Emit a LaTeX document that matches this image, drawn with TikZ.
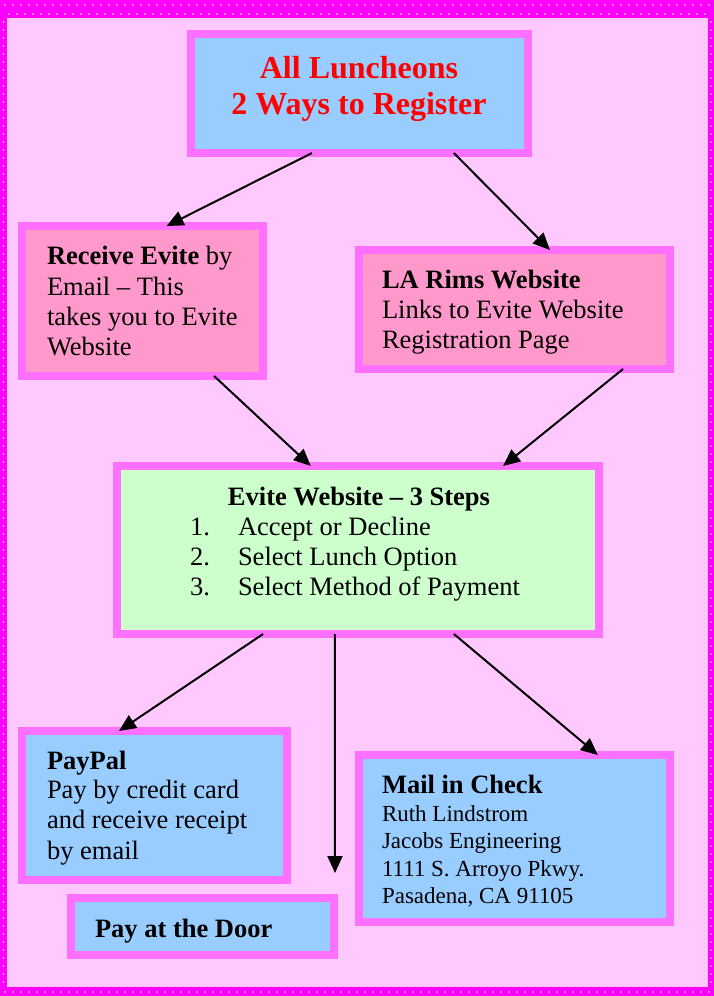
\documentclass[tikz,border=0pt]{standalone}
\usepackage{fontspec}
\setmainfont{Liberation Serif}
\usetikzlibrary{arrows.meta,calc}
\definecolor{pagemag}{HTML}{FF00FF}
\definecolor{pagebg}{HTML}{FFC8FF}
\definecolor{boxedge}{HTML}{FF70FF}
\definecolor{bluefill}{HTML}{99CCFF}
\definecolor{pinkfill}{HTML}{FF99CC}
\definecolor{greenfill}{HTML}{CCFFCC}
\tikzset{
  box/.style={draw=boxedge, line width=8pt, inner sep=0pt, outer sep=0pt},
  body/.style={font=\fontsize{26.5}{30}\selectfont, anchor=base west, inner sep=0pt, outer sep=0pt},
  small/.style={font=\fontsize{23}{27}\selectfont, anchor=base west, inner sep=0pt, outer sep=0pt},
  headline/.style={font=\fontsize{32}{36}\selectfont\bfseries, text=red, anchor=base, inner sep=0pt},
  flow/.style={line width=2pt, -{Triangle[length=17pt,width=15pt]}},
  dot/.style={fill=white}
}
\begin{document}
\begin{tikzpicture}[x=1pt,y=-1pt]
\useasboundingbox (0,0) rectangle (714,996);
% page frame
\fill[pagemag] (0,0) rectangle (714,996);
\fill[pagebg] (7,18) rectangle (708,987);
\foreach \x in {5,13,...,709} {\fill[dot] (\x,5) circle (0.9pt); \fill[dot] (\x,992) circle (0.9pt);}
\foreach \x in {9,17,...,705} {\fill[dot] (\x,14) circle (0.9pt);}
\foreach \y in {22,30,...,982} {\fill[dot] (3.5,\y) circle (0.9pt); \fill[dot] (711,\y) circle (0.9pt);}

% boxes
\node[box, fill=bluefill, minimum width=337pt, minimum height=119pt] (title) at (359.5,93.5) {};
\node[box, fill=pinkfill, minimum width=241pt, minimum height=150pt] (receive) at (142.5,301) {};
\node[box, fill=pinkfill, minimum width=311pt, minimum height=119pt] (larims) at (514.5,309.5) {};
\node[box, fill=greenfill, minimum width=482pt, minimum height=168pt] (evite) at (358,550) {};
\node[box, fill=bluefill, minimum width=265pt, minimum height=149pt] (paypal) at (154.5,805.5) {};
\node[box, fill=bluefill, minimum width=263pt, minimum height=57pt] (door) at (202.5,926.5) {};
\node[box, fill=bluefill, minimum width=311pt, minimum height=167pt] (mail) at (514.5,838.5) {};

% texts
\node[headline] (t1a) at (359,78) {All Luncheons};
\node[headline] (t1b) at (359,114) {2 Ways to Register};

\node[body] (r1) at (47,264) {\textbf{Receive Evite} by};
\node[body] (r2) at (47,295) {Email – This};
\node[body] (r3) at (47,325) {takes you to Evite};
\node[body] (r4) at (47,355) {Website};

\node[body] (l1) at (382,288) {\textbf{LA Rims Website}};
\node[body] (l2) at (382,318) {Links to Evite Website};
\node[body] (l3) at (382,348) {Registration Page};

\node[body, anchor=base] (e0) at (359,505) {\textbf{Evite Website – 3 Steps}};
\node[body] (e1n) at (190,535) {1.};
\node[body] (e1) at (238,535) {Accept or Decline};
\node[body] (e2n) at (190,565) {2.};
\node[body] (e2) at (238,565) {Select Lunch Option};
\node[body] (e3n) at (190,595) {3.};
\node[body] (e3) at (238,595) {Select Method of Payment};

\node[body] (p1) at (47,769) {\textbf{PayPal}};
\node[body] (p2) at (47,798) {Pay by credit card};
\node[body] (p3) at (47,828) {and receive receipt};
\node[body] (p4) at (47,859) {by email};

\node[body] (d1) at (95,937) {\textbf{Pay at the Door}};

\node[body] (m1) at (382,793) {\textbf{Mail in Check}};
\node[small] (m2) at (382,821) {Ruth Lindstrom};
\node[small] (m3) at (382,848) {Jacobs Engineering};
\node[small] (m4) at (382,876) {1111 S. Arroyo Pkwy.};
\node[small] (m5) at (382,903) {Pasadena, CA 91105};

% connectors
\coordinate (doorend) at (335,873);
\draw[flow] ($(title.south west)!0.359!(title.south east)$) -- ($(receive.north west)!0.60!(receive.north east)$);
\draw[flow] ($(title.south west)!0.780!(title.south east)$) -- ($(larims.north west)!0.614!(larims.north east)$);
\draw[flow] ($(receive.south west)!0.797!(receive.south east)$) -- ($(evite.north west)!0.402!(evite.north east)$);
\draw[flow] ($(larims.south west)!0.849!(larims.south east)$) -- ($(evite.north west)!0.801!(evite.north east)$);
\draw[flow] ($(evite.south west)!0.303!(evite.south east)$) -- ($(paypal.north west)!0.366!(paypal.north east)$);
\draw[flow] ($(evite.south west)!0.452!(evite.south east)$) -- (doorend);
\draw[flow] ($(evite.south west)!0.699!(evite.south east)$) -- ($(mail.north west)!0.768!(mail.north east)$);
\end{tikzpicture}
\end{document}
